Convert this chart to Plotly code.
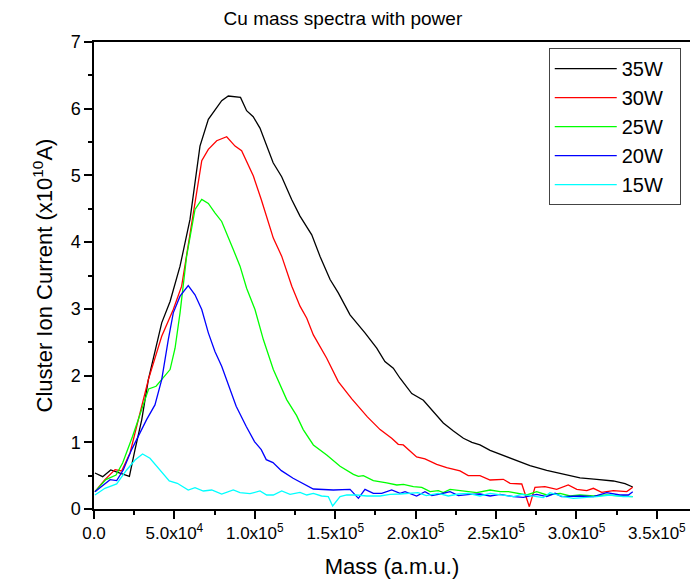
import plotly.graph_objects as go

# ---------------- data ----------------
mass_35 = [600, 5400, 10400, 16200, 22000, 25500, 29700, 33800, 42100, 47300, 53500, 59700,
           65900, 71100, 74200, 79400, 83500, 91100, 94900, 99000, 103200, 111400, 116700,
           122900, 128100, 135400, 140500, 146800, 151900, 159200, 168500, 175800, 180900,
           186100, 190300, 197600, 204800, 210900, 217200, 223500, 229700, 235000, 240000,
           246300, 254500, 262900, 271100, 281500, 293900, 302200, 312600, 322900, 330200, 335000]
cur_35 = [0.54, 0.485, 0.585, 0.54, 0.49, 0.89, 1.34, 1.94, 2.79, 3.11, 3.64, 4.34,
          5.44, 5.84, 5.94, 6.12, 6.19, 6.17, 5.97, 5.88, 5.71, 5.19, 4.98,
          4.64, 4.39, 4.11, 3.79, 3.44, 3.24, 2.91, 2.64, 2.41, 2.21,
          2.11, 1.96, 1.73, 1.63, 1.47, 1.29, 1.17, 1.06, 1.00, 0.96,
          0.88, 0.80, 0.73, 0.65, 0.58, 0.51, 0.465, 0.445, 0.42, 0.38, 0.33]

mass_30 = [600, 6800, 13100, 17200, 22400, 28600, 33800, 42100, 49300, 54500, 59700, 67000,
           71100, 76300, 82500, 87700, 91800, 99100, 104000, 111500, 116700, 123000, 128100,
           132300, 136400, 144700, 151900, 160300, 170000, 177900, 185100, 189200, 192300,
           200600, 205800, 213100, 219300, 227600, 232700, 240000, 246300, 254500, 258700,
           266000, 270700, 274200, 280400, 287700, 294900, 300200, 306400, 310500, 315700,
           322900, 331300, 335000]
cur_30 = [0.26, 0.44, 0.59, 0.57, 0.84, 1.44, 1.94, 2.59, 2.99, 3.34, 4.14, 5.22,
          5.39, 5.52, 5.58, 5.44, 5.37, 4.99, 4.64, 4.06, 3.79, 3.34, 3.04,
          2.86, 2.61, 2.26, 1.91, 1.65, 1.38, 1.19, 1.06, 0.97, 0.96,
          0.78, 0.75, 0.67, 0.62, 0.57, 0.50, 0.50, 0.435, 0.445, 0.385,
          0.375, 0.035, 0.325, 0.335, 0.295, 0.36, 0.295, 0.275, 0.31, 0.25,
          0.275, 0.26, 0.325]

mass_25 = [600, 7400, 13700, 17800, 24000, 30200, 34000, 38600, 42100, 47300, 50400, 53500,
           57600, 62800, 67000, 71100, 75200, 79400, 86600, 90800, 94900, 100100, 105300,
           111500, 119800, 126000, 130100, 136400, 144700, 153000, 161300, 164400, 167500,
           170600, 173700, 182000, 188300, 192400, 198600, 203800, 209000, 214100, 217200,
           221400, 229700, 238000, 246300, 252500, 257700, 262900, 269100, 275300, 281500,
           289800, 296000, 302200, 310500, 318800, 327100, 335000]
cur_25 = [0.26, 0.44, 0.51, 0.69, 1.09, 1.54, 1.80, 1.84, 1.94, 2.09, 2.41, 2.94,
          3.79, 4.49, 4.64, 4.58, 4.44, 4.31, 3.89, 3.64, 3.31, 2.99, 2.54,
          2.09, 1.64, 1.40, 1.19, 0.96, 0.81, 0.64, 0.52, 0.49, 0.50,
          0.46, 0.425, 0.39, 0.36, 0.37, 0.335, 0.325, 0.26, 0.275, 0.245,
          0.295, 0.27, 0.245, 0.285, 0.26, 0.26, 0.235, 0.21, 0.26, 0.21,
          0.235, 0.195, 0.21, 0.195, 0.21, 0.195, 0.185]

mass_20 = [600, 5800, 10000, 14100, 18200, 23400, 27500, 32700, 37900, 42100, 46200, 49300,
           53500, 58600, 62800, 67000, 71100, 75200, 79400, 82500, 88400, 94600, 99800,
           104000, 107100, 111300, 116500, 123800, 130000, 136400, 148800, 159200, 164400,
           168500, 173700, 178900, 185100, 190300, 193400, 200600, 205800, 210000, 215100,
           221400, 226600, 233800, 240000, 246300, 252500, 260800, 267000, 275300, 281500,
           286700, 290800, 302200, 310500, 318800, 327100, 332300, 335000]
cur_20 = [0.26, 0.36, 0.44, 0.425, 0.585, 0.89, 1.09, 1.34, 1.56, 1.94, 2.54, 2.94,
          3.19, 3.35, 3.21, 2.99, 2.64, 2.36, 2.14, 1.94, 1.54, 1.24, 1.01,
          0.89, 0.74, 0.695, 0.575, 0.46, 0.385, 0.30, 0.285, 0.295, 0.16,
          0.295, 0.235, 0.235, 0.285, 0.235, 0.26, 0.195, 0.26, 0.20, 0.225,
          0.26, 0.20, 0.22, 0.225, 0.195, 0.22, 0.185, 0.175, 0.22, 0.185,
          0.235, 0.185, 0.195, 0.185, 0.245, 0.21, 0.21, 0.26]

mass_15 = [600, 6800, 14100, 20300, 25500, 30200, 34800, 40000, 46800, 51800, 58600, 62800,
           68000, 73200, 79400, 86600, 90800, 97000, 103200, 107400, 111500, 116700, 121900,
           128100, 132300, 136400, 141500, 145700, 148400, 153000, 157200, 163400, 169600,
           177900, 184100, 190300, 194300, 201400, 206600, 214100, 220300, 226600, 232700,
           240000, 246300, 252500, 260800, 266000, 273200, 279400, 283500, 291900, 298100,
           304300, 312600, 320900, 329100, 335000]
cur_15 = [0.21, 0.31, 0.375, 0.585, 0.735, 0.825, 0.76, 0.61, 0.42, 0.385, 0.285, 0.32,
          0.27, 0.285, 0.225, 0.285, 0.245, 0.23, 0.27, 0.21, 0.21, 0.27, 0.22,
          0.25, 0.21, 0.235, 0.195, 0.185, 0.045, 0.185, 0.21, 0.21, 0.195,
          0.195, 0.22, 0.225, 0.235, 0.245, 0.20, 0.235, 0.195, 0.225, 0.235,
          0.195, 0.235, 0.21, 0.185, 0.22, 0.195, 0.17, 0.245, 0.185, 0.16,
          0.17, 0.185, 0.21, 0.185, 0.185]

series_names = ["35W", "30W", "25W", "20W", "15W"]
series_colors = ["#000000", "#FF0000", "#00FF00", "#0000FF", "#00FFFF"]
series_x = [mass_35, mass_30, mass_25, mass_20, mass_15]
series_y = [cur_35, cur_30, cur_25, cur_20, cur_15]

x_tick_vals = [0, 50000, 100000, 150000, 200000, 250000, 300000, 350000]
x_tick_text = ["0.0", "5.0x10<sup>4</sup>", "1.0x10<sup>5</sup>", "1.5x10<sup>5</sup>",
               "2.0x10<sup>5</sup>", "2.5x10<sup>5</sup>", "3.0x10<sup>5</sup>",
               "3.5x10<sup>5</sup>"]
y_tick_vals = [0, 1, 2, 3, 4, 5, 6, 7]

# ---------------- figure ----------------
FONT = "Liberation Sans, Arial, sans-serif"
PAD = "\u00a0\u00a0"  # widens the legend box like the reference
fig = go.Figure()
for name, col, xs, ys in zip(series_names, series_colors, series_x, series_y):
    fig.add_trace(go.Scatter(x=xs, y=ys, mode="lines", name=name + PAD,
                             hovertemplate=name + ": %{x}, %{y}<extra></extra>",
                             line=dict(color=col, width=1.3)))

fig.update_layout(
    width=690, height=582,
    margin=dict(l=94, r=0, t=42, b=73),
    paper_bgcolor="white", plot_bgcolor="white",
    font=dict(family=FONT, color="black"),
    title=dict(text="Cu mass spectra with power", x=0.497, xanchor="center",
               y=0.968, yanchor="middle", font=dict(size=19, family=FONT)),
    showlegend=True,
    legend=dict(x=0.763, y=0.987, xanchor="left", yanchor="top",
                bgcolor="white", bordercolor="#444444", borderwidth=1,
                font=dict(size=20, family=FONT), itemwidth=62,
                tracegroupgap=0, traceorder="normal"),
)

fig.update_xaxes(
    range=[0, 370600], showgrid=False, zeroline=False,
    showline=True, linecolor="black", linewidth=1.5, mirror=True,
    ticks="outside", ticklen=8, tickwidth=1.5, tickcolor="black",
    tickmode="array", tickvals=x_tick_vals, ticktext=x_tick_text,
    tickfont=dict(size=17, family=FONT),
    minor=dict(tickmode="linear", tick0=0, dtick=25000, ticks="outside",
               ticklen=4, tickwidth=1.5, tickcolor="black", showgrid=False),
    title=dict(text="Mass (a.m.u.)", font=dict(size=22, family=FONT), standoff=16),
)
fig.update_yaxes(
    range=[0, 7], showgrid=False, zeroline=False,
    showline=True, linecolor="black", linewidth=1.5, mirror=False,
    ticks="outside", ticklen=8, tickwidth=1.5, tickcolor="black",
    tickmode="array", tickvals=y_tick_vals,
    tickfont=dict(size=18, family=FONT),
    minor=dict(tickmode="linear", tick0=0, dtick=0.5, ticks="outside",
               ticklen=4, tickwidth=1.5, tickcolor="black", showgrid=False),
    title=dict(text="Cluster Ion Current (x10<sup>10</sup>A)",
               font=dict(size=22, family=FONT), standoff=12),
)

fig.write_html("out.html")
